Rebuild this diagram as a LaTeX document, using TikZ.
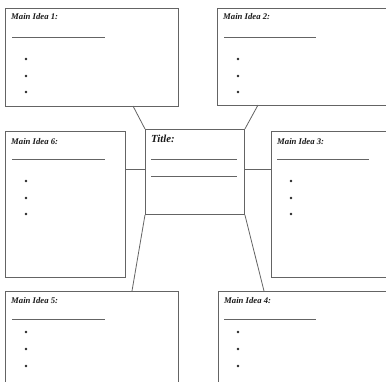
\documentclass[tikz,border=0pt]{standalone}
\usepackage{fontspec}
\setmainfont{Liberation Serif}
\begin{document}
\begin{tikzpicture}[x=1pt,y=-1pt,
  box/.style={draw=linegray,line width=0.9pt,rectangle,anchor=north west,inner sep=0pt},
  conn/.style={draw=linegray,line width=0.8pt},
  uline/.style={draw=linegray,line width=0.8pt},
  lbl/.style={anchor=west,inner sep=0pt,font=\fontsize{8.7}{9}\selectfont\bfseries\itshape,text=black!90},
  ttl/.style={anchor=west,inner sep=0pt,font=\fontsize{10.8}{11}\selectfont\bfseries\itshape,text=black!90},
  dot/.style={circle,fill=black!85,inner sep=0pt,minimum size=2.9pt}]
\definecolor{linegray}{RGB}{100,100,100}
\useasboundingbox (0,0) rectangle (386,381);
\clip (0,0) rectangle (386,381);
\fill[white] (0,0) rectangle (386,381);
% boxes
\node[box,minimum width=173pt,minimum height=98pt] (b1) at (5,8) {};
\node[box,minimum width=175pt,minimum height=97pt] (b2) at (217,8) {};
\node[box,minimum width=120pt,minimum height=146pt] (b6) at (5,131) {};
\node[box,minimum width=121pt,minimum height=146pt] (b3) at (271,131) {};
\node[box,minimum width=173pt,minimum height=110pt] (b5) at (5,291) {};
\node[box,minimum width=174pt,minimum height=110pt] (b4) at (218,291) {};
\node[box,minimum width=99pt,minimum height=85pt] (t) at (145,129) {};
% labels
\node[lbl] (l1) at (11,16.5) {Main Idea 1:};
\node[lbl] (l2) at (223,16.5) {Main Idea 2:};
\node[lbl] (l6) at (11,141.5) {Main Idea 6:};
\node[lbl] (l3) at (277,141.5) {Main Idea 3:};
\node[lbl] (l5) at (11,300.5) {Main Idea 5:};
\node[lbl] (l4) at (224,300.5) {Main Idea 4:};
\node[ttl] (tt) at (151,138.5) {Title:};
% underlines
\draw[uline] (12,37) -- (105,37);
\draw[uline] (224,37) -- (316,37);
\draw[uline] (12,159) -- (105,159);
\draw[uline] (277,159) -- (369,159);
\draw[uline] (12,319) -- (105,319);
\draw[uline] (224,319) -- (316,319);
\draw[uline] (151,159) -- (237,159);
\draw[uline] (151,176) -- (237,176);
% bullets
\foreach \y in {59,76,92}{\node[dot] at (26,\y) {}; \node[dot] at (238,\y) {};}
\foreach \y in {181,198,214}{\node[dot] at (26,\y) {}; \node[dot] at (291,\y) {};}
\foreach \y in {332,349,366}{\node[dot] at (26,\y) {}; \node[dot] at (238,\y) {};}
% connector endpoints
\coordinate (c1) at (133,106);
\coordinate (c2) at (258,105);
\coordinate (c5) at (132,291);
\coordinate (c4) at (264,291);
\draw[conn] (c1) -- (t.north west);
\draw[conn] (c2) -- (t.north east);
\draw[conn] (b6.east |- 0,169) -- (t.west |- 0,169);
\draw[conn] (t.east |- 0,169) -- (b3.west |- 0,169);
\draw[conn] (t.south west) -- (c5);
\draw[conn] (t.south east) -- (c4);
\end{tikzpicture}
\end{document}
